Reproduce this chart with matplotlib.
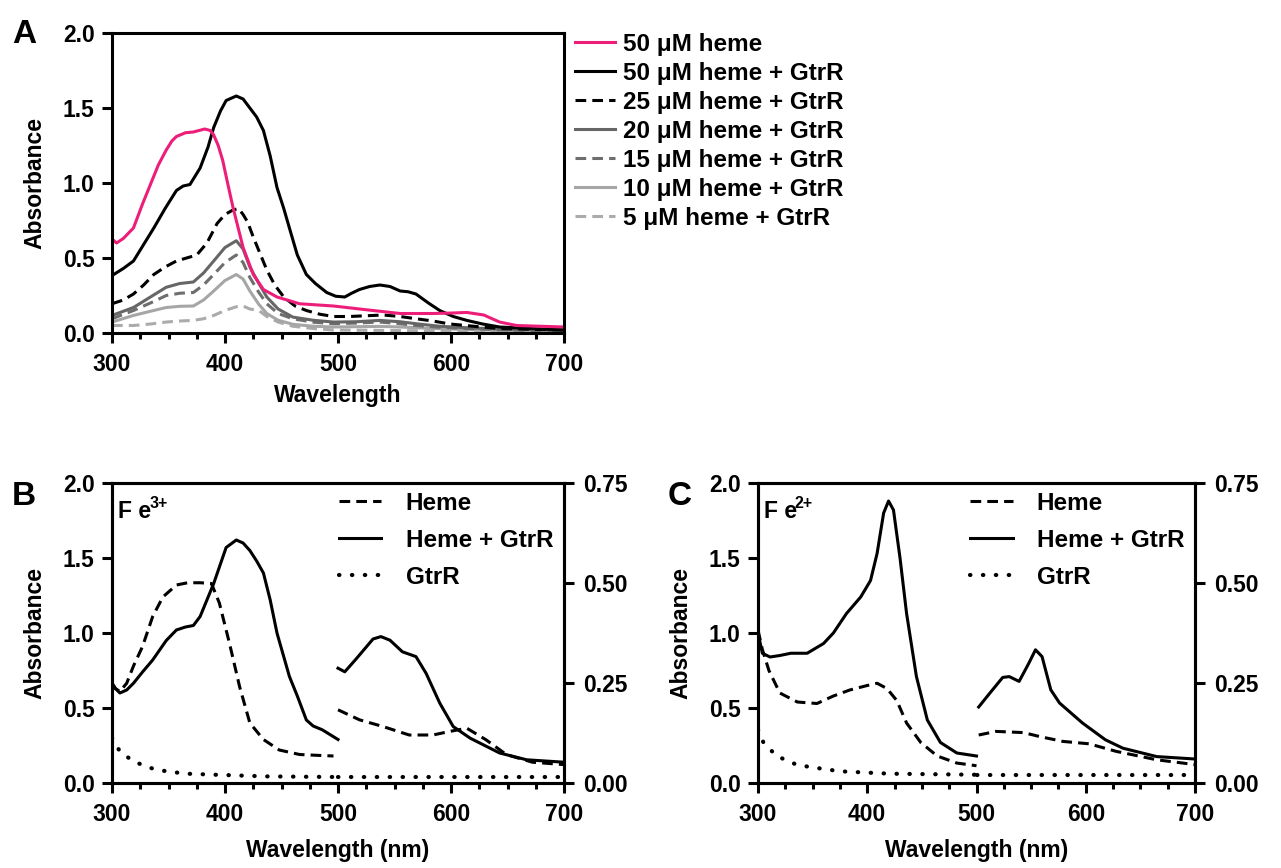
import matplotlib
matplotlib.use("agg")
from matplotlib import pyplot as plt
from matplotlib.lines import Line2D
from matplotlib.ticker import MultipleLocator, FormatStrFormatter

plt.rcParams["font.family"] = ["Liberation Sans", "DejaVu Sans"]
plt.rcParams["font.weight"] = "bold"
plt.rcParams["axes.labelweight"] = "bold"

# %% Panel A data (wavelength in nm, absorbance)
wlHeme50 = [300, 304, 310, 319, 327, 334, 341, 348, 353, 357, 365, 372, 382, 387, 390, 394, 398, 402, 407, 416, 425, 434, 446, 466, 496, 525, 555, 584, 600, 614, 629, 643, 658, 700]
absHeme50 = [0.627, 0.60, 0.63, 0.70, 0.86, 0.99, 1.12, 1.22, 1.28, 1.31, 1.335, 1.34, 1.36, 1.35, 1.32, 1.25, 1.15, 1.01, 0.84, 0.57, 0.39, 0.29, 0.24, 0.195, 0.18, 0.155, 0.13, 0.13, 0.133, 0.137, 0.12, 0.073, 0.05, 0.04]

wlGtrR50 = [300, 310, 319, 328, 337, 347, 357, 363, 369, 378, 385, 390, 396, 401, 410, 416, 422, 428, 434, 440, 446, 452, 457, 464, 472, 480, 490, 498, 506, 512, 519, 528, 537, 546, 555, 562, 569, 580, 590, 602, 614, 628, 643, 670, 700]
absGtrR50 = [0.383, 0.43, 0.48, 0.59, 0.70, 0.83, 0.95, 0.98, 0.99, 1.10, 1.24, 1.37, 1.48, 1.55, 1.58, 1.56, 1.50, 1.44, 1.35, 1.18, 0.97, 0.83, 0.70, 0.52, 0.39, 0.33, 0.27, 0.245, 0.24, 0.265, 0.29, 0.31, 0.32, 0.31, 0.28, 0.275, 0.26, 0.20, 0.15, 0.11, 0.084, 0.06, 0.04, 0.03, 0.02]

wlGtrR25 = [300, 310, 319, 328, 337, 347, 357, 366, 375, 384, 393, 400, 407, 412, 416, 420, 425, 431, 437, 444, 452, 462, 472, 484, 496, 510, 525, 540, 555, 569, 584, 599, 620, 643, 670, 700]
absGtrR25 = [0.195, 0.22, 0.26, 0.32, 0.39, 0.44, 0.48, 0.50, 0.52, 0.60, 0.73, 0.79, 0.82, 0.83, 0.79, 0.74, 0.64, 0.53, 0.42, 0.32, 0.24, 0.18, 0.15, 0.125, 0.11, 0.11, 0.115, 0.12, 0.11, 0.095, 0.08, 0.06, 0.045, 0.03, 0.025, 0.02]

wlGtrR20 = [300, 319, 334, 348, 360, 372, 381, 390, 400, 410, 416, 422, 430, 437, 447, 460, 478, 496, 516, 537, 555, 569, 590, 614, 650, 700]
absGtrR20 = [0.117, 0.17, 0.24, 0.305, 0.33, 0.34, 0.40, 0.48, 0.57, 0.615, 0.56, 0.44, 0.33, 0.24, 0.16, 0.106, 0.085, 0.073, 0.075, 0.084, 0.075, 0.062, 0.045, 0.035, 0.025, 0.02]

wlGtrR15 = [300, 319, 334, 348, 360, 372, 381, 390, 400, 410, 416, 422, 430, 437, 447, 460, 478, 496, 516, 537, 555, 569, 590, 614, 650, 700]
absGtrR15 = [0.095, 0.15, 0.20, 0.25, 0.265, 0.27, 0.32, 0.39, 0.47, 0.52, 0.47, 0.37, 0.27, 0.195, 0.13, 0.095, 0.072, 0.062, 0.066, 0.073, 0.062, 0.05, 0.038, 0.03, 0.02, 0.013]

wlGtrR10 = [300, 319, 334, 348, 360, 372, 381, 390, 400, 410, 416, 422, 430, 437, 447, 460, 478, 496, 516, 537, 555, 584, 620, 660, 700]
absGtrR10 = [0.073, 0.117, 0.145, 0.17, 0.178, 0.18, 0.22, 0.28, 0.35, 0.39, 0.36, 0.28, 0.19, 0.13, 0.085, 0.058, 0.045, 0.04, 0.042, 0.044, 0.04, 0.03, 0.022, 0.016, 0.013]

wlGtrR5 = [300, 319, 334, 348, 360, 372, 381, 390, 400, 410, 416, 422, 430, 437, 447, 460, 478, 496, 530, 570, 620, 700]
absGtrR5 = [0.05, 0.05, 0.06, 0.073, 0.08, 0.084, 0.095, 0.117, 0.15, 0.175, 0.18, 0.16, 0.15, 0.11, 0.073, 0.045, 0.03, 0.02, 0.018, 0.015, 0.01, 0.007]

labelsA = ["50 μM heme", "50 μM heme + GtrR", "25 μM heme + GtrR", "20 μM heme + GtrR",
           "15 μM heme + GtrR", "10 μM heme + GtrR", "5 μM heme + GtrR"]
colorsA = ["#ED1E79", "black", "black", "#666666", "#6E6E6E", "#A6A6A6", "#ABABAB"]
dashedA = [False, False, True, False, True, False, True]

# %% Panel B (Fe3+) data: 300-500 nm on left axis, 500-700 nm on right axis
wlB1 = [300, 303, 307, 313, 319, 327, 336, 345, 357, 367, 378, 388, 395, 404, 413, 422, 434, 448, 466, 480, 496]
hemeB1 = [0.665, 0.63, 0.61, 0.665, 0.78, 0.91, 1.11, 1.24, 1.32, 1.335, 1.335, 1.33, 1.20, 0.93, 0.64, 0.40, 0.29, 0.22, 0.19, 0.185, 0.18]
wlB1g = [300, 303, 307, 313, 319, 327, 336, 348, 357, 365, 372, 378, 390, 401, 410, 416, 422, 428, 434, 440, 446, 457, 464, 472, 478, 486, 500]
hemeGtrRB1 = [0.665, 0.63, 0.60, 0.62, 0.665, 0.74, 0.82, 0.95, 1.02, 1.04, 1.05, 1.11, 1.33, 1.57, 1.62, 1.60, 1.55, 1.48, 1.40, 1.22, 1.00, 0.71, 0.58, 0.42, 0.38, 0.355, 0.29]
wlB1d = [300, 307, 319, 334, 348, 366, 392, 437, 500]
gtrRB1 = [0.30, 0.21, 0.144, 0.10, 0.078, 0.062, 0.055, 0.044, 0.04]

wlB2 = [500, 506, 516, 525, 531, 538, 546, 557, 569, 578, 590, 602, 617, 643, 667, 700]
hemeGtrRB2 = [0.287, 0.278, 0.31, 0.34, 0.36, 0.366, 0.357, 0.328, 0.316, 0.274, 0.20, 0.141, 0.112, 0.075, 0.058, 0.052]
wlB2h = [500, 519, 540, 563, 584, 599, 614, 631, 649, 672, 700]
hemeB2 = [0.183, 0.158, 0.141, 0.12, 0.12, 0.129, 0.137, 0.108, 0.071, 0.052, 0.046]
wlB2d = [500, 700]
gtrRB2 = [0.015, 0.015]

# %% Panel C (Fe2+) data
wlC1 = [300, 304, 311, 320, 330, 345, 360, 369, 381, 394, 403, 409, 415, 419.5, 424, 430, 436, 445, 455, 467, 482, 500]
hemeGtrRC1 = [1.0, 0.865, 0.84, 0.85, 0.865, 0.865, 0.93, 1.0, 1.13, 1.24, 1.35, 1.53, 1.80, 1.88, 1.82, 1.50, 1.13, 0.71, 0.42, 0.27, 0.20, 0.18]
wlC1h = [300, 304, 310, 320, 336, 354, 369, 384, 400, 409, 418, 427, 436, 449, 464, 482, 500]
hemeC1 = [1.02, 0.89, 0.75, 0.60, 0.54, 0.53, 0.58, 0.62, 0.65, 0.665, 0.63, 0.55, 0.40, 0.27, 0.18, 0.133, 0.115]
wlC1d = [300, 305, 317, 336, 354, 375, 421, 500]
gtrRC1 = [0.355, 0.27, 0.18, 0.12, 0.10, 0.078, 0.062, 0.055]

wlC2 = [502, 512, 524, 530, 539, 548, 554, 560, 568, 576, 597, 618, 634, 665, 700]
hemeGtrRC2 = [0.19, 0.224, 0.264, 0.266, 0.254, 0.30, 0.333, 0.316, 0.233, 0.20, 0.15, 0.108, 0.087, 0.066, 0.06]
wlC2h = [502, 518, 543, 558, 579, 603, 628, 665, 700]
hemeC2 = [0.12, 0.129, 0.126, 0.116, 0.104, 0.098, 0.079, 0.058, 0.046]
wlC2d = [500, 700]
gtrRC2 = [0.021, 0.021]

# %% Styling helpers
lw = 2.2
dotLw = 3.0
dashStyle = (0, (3.5, 2))
dotStyle = (0, (0.1, 3.0))
tickSize = 16.5
labelSize = 16.5
legendSize = 17.5


def style_axis(ax):
    for spine in ax.spines.values():
        spine.set_linewidth(2.2)
    ax.set_xlim(300, 700)
    ax.set_ylim(0, 2.0)
    ax.xaxis.set_major_locator(MultipleLocator(100))
    ax.xaxis.set_minor_locator(MultipleLocator(25))
    ax.yaxis.set_major_locator(MultipleLocator(0.5))
    ax.yaxis.set_major_formatter(FormatStrFormatter("%.1f"))
    ax.tick_params(which="major", direction="out", length=7.5, width=2.2, labelsize=tickSize, pad=5)
    ax.tick_params(axis="x", which="major", length=7.5, pad=7)
    ax.tick_params(axis="x", which="minor", direction="out", length=4.5, width=2.2)
    for lab in ax.get_xticklabels() + ax.get_yticklabels():
        lab.set_fontweight("bold")
    ax.set_ylabel("Absorbance", fontsize=labelSize, fontweight="bold", labelpad=12)


fig = plt.figure(figsize=(12.81, 8.68), dpi=100)

# %% Panel A
axA = fig.add_axes([112/1281, 1-333/868, 452/1281, 300/868])
seriesA = [(wlHeme50, absHeme50), (wlGtrR50, absGtrR50), (wlGtrR25, absGtrR25), (wlGtrR20, absGtrR20),
           (wlGtrR15, absGtrR15), (wlGtrR10, absGtrR10), (wlGtrR5, absGtrR5)]
linesA = []
# draw lightest first so the main curves sit on top
for i in reversed(range(len(seriesA))):
    x, y = seriesA[i]
    ls = dashStyle if dashedA[i] else "-"
    line, = axA.plot(x, y, color=colorsA[i], lw=lw, linestyle=ls, label=labelsA[i])
    linesA.insert(0, line)
style_axis(axA)
axA.set_xlabel("Wavelength", fontsize=labelSize, fontweight="bold", labelpad=6)
fig.legend(handles=linesA, labels=labelsA, loc="upper left", bbox_to_anchor=(575/1281, 1-33/868),
           frameon=False, handlelength=1.65, handletextpad=0.33, labelspacing=0.245,
           borderaxespad=0, borderpad=0, prop={"weight": "bold", "size": legendSize})
fig.text(12/1281, 1-43/868, "A", fontsize=24, fontweight="bold")


# %% Panels B and C
def draw_panel(rect, left, right, ionCharge, letter, letterX):
    ax = fig.add_axes(rect)
    axR = ax.twinx()
    (wlH1, h1), (wlG1, g1), (wlD1, d1) = left
    (wlH2, h2), (wlG2, g2), (wlD2, d2) = right
    ax.plot(wlH1, h1, color="black", lw=lw, linestyle=dashStyle)
    ax.plot(wlG1, g1, color="black", lw=lw)
    ax.plot(wlD1, d1, color="black", lw=dotLw, linestyle=dotStyle, dash_capstyle="round")
    axR.plot(wlH2, h2, color="black", lw=lw, linestyle=dashStyle)
    axR.plot(wlG2, g2, color="black", lw=lw)
    axR.plot(wlD2, d2, color="black", lw=dotLw, linestyle=dotStyle, dash_capstyle="round")
    style_axis(ax)
    axR.set_ylim(0, 0.75)
    axR.yaxis.set_major_locator(MultipleLocator(0.25))
    axR.yaxis.set_major_formatter(FormatStrFormatter("%.2f"))
    axR.tick_params(direction="out", length=7.5, width=2.2, labelsize=tickSize, pad=6)
    for lab in axR.get_yticklabels():
        lab.set_fontweight("bold")
    for spine in axR.spines.values():
        spine.set_linewidth(2.2)
    ax.set_xlabel("Wavelength (nm)", fontsize=labelSize, fontweight="bold", labelpad=9)
    handles = [Line2D([], [], color="black", lw=lw, linestyle=dashStyle),
               Line2D([], [], color="black", lw=lw),
               Line2D([], [], color="black", lw=dotLw, linestyle=dotStyle, dash_capstyle="round")]
    ax.legend(handles, ["Heme", "Heme + GtrR", "GtrR"], loc="upper right", frameon=False,
              prop={"weight": "bold", "size": legendSize}, handlelength=1.75, handletextpad=1.0,
              labelspacing=0.58, borderaxespad=0.15, borderpad=0.2, bbox_to_anchor=(0.995, 1.0))
    ax.text(0.013, 0.885, "F e", transform=ax.transAxes, fontsize=16.5, fontweight="bold")
    ax.text(0.083, 0.915, ionCharge, transform=ax.transAxes, fontsize=11.5, fontweight="bold")
    fig.text(letterX, 1-505/868, letter, fontsize=24, fontweight="bold")


draw_panel([112/1281, 1-783/868, 452/1281, 300/868],
           [(wlB1, hemeB1), (wlB1g, hemeGtrRB1), (wlB1d, gtrRB1)],
           [(wlB2h, hemeB2), (wlB2, hemeGtrRB2), (wlB2d, gtrRB2)],
           "3+", "B", 12/1281)
draw_panel([758/1281, 1-783/868, 437/1281, 300/868],
           [(wlC1h, hemeC1), (wlC1, hemeGtrRC1), (wlC1d, gtrRC1)],
           [(wlC2h, hemeC2), (wlC2, hemeGtrRC2), (wlC2d, gtrRC2)],
           "2+", "C", 668/1281)

fig.savefig("out.png", dpi=100)
